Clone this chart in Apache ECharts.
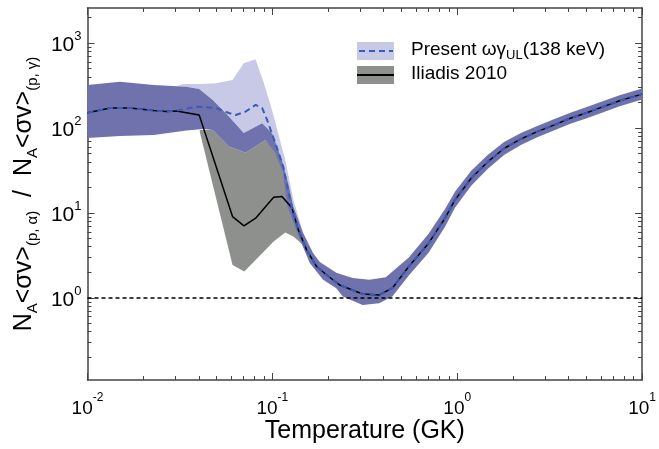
<!DOCTYPE html>
<html>
<head>
<meta charset="utf-8">
<script src="https://cdn.jsdelivr.net/npm/echarts@6/dist/echarts.min.js"></script>
<style>
  html, body { margin: 0; padding: 0; background: #fff; }
  #chart { width: 659px; height: 449px; }
</style>
</head>
<body>
<div id="chart"></div>
<script>
// [temperature GK, ratio]
const presentLine = [
  [0.01, 151], [0.0133, 172], [0.017, 172], [0.0228, 160], [0.0268, 156], [0.0303, 160],
  [0.0387, 178], [0.0495, 172], [0.0582, 150], [0.0634, 142], [0.0718, 156], [0.0812, 187],
  [0.0881, 171], [0.0937, 124], [0.1037, 66.6], [0.1145, 35], [0.1274, 11.5], [0.1382, 6.31],
  [0.1533, 3.67], [0.1734, 2.34], [0.1961, 1.87], [0.231, 1.42], [0.3076, 1.11], [0.378, 1.08],
  [0.4453, 1.30], [0.547, 2.34], [0.70, 4.40], [0.859, 8.7], [0.972, 14.2], [1.19, 25.6],
  [1.465, 40.1], [1.80, 57.7], [2.21, 74.2], [2.71, 90.5], [3.33, 108], [4.09, 130],
  [5.02, 151], [6.17, 178], [7.56, 209], [10, 250]
]
const iliadisLine = [
  [0.01, 151], [0.0133, 172], [0.017, 172], [0.0228, 160], [0.0268, 156], [0.0303, 158],
  [0.0402, 142], [0.0609, 9.05], [0.0702, 7.03], [0.0812, 8.66], [0.1016, 15.3], [0.1127, 15.6],
  [0.1274, 11.5], [0.1382, 6.31], [0.1533, 3.67], [0.1734, 2.34], [0.1961, 1.87], [0.231, 1.42],
  [0.3076, 1.11], [0.378, 1.08], [0.4453, 1.30], [0.547, 2.34], [0.70, 4.40], [0.859, 8.7],
  [0.972, 14.2], [1.19, 25.6], [1.465, 40.1], [1.80, 57.7], [2.21, 74.2], [2.71, 90.5],
  [3.33, 108], [4.09, 130], [5.02, 151], [6.17, 178], [7.56, 209], [10, 250]
]
const darkBandUpper = [
  [0.01, 320], [0.015, 350], [0.0228, 320], [0.0343, 306], [0.0402, 288], [0.0476, 213.5],
  [0.0582, 136], [0.070, 87.4], [0.0881, 113.6], [0.0996, 87.4], [0.1127, 42.0], [0.1218, 22.5],
  [0.130, 11.9], [0.147, 5.77], [0.1663, 3.36], [0.1806, 2.65], [0.2218, 1.97], [0.272, 1.71],
  [0.334, 1.63], [0.4106, 1.75], [0.547, 2.98], [0.70, 5.69], [0.859, 11.1], [0.972, 17.7],
  [1.19, 31.4], [1.465, 48.5], [1.80, 68.8], [2.21, 87.4], [2.71, 105.6],
  [3.33, 126.5], [4.09, 151], [5.02, 176], [6.17, 207], [7.56, 243], [10, 292]
]
const darkBandLower = [
  [0.01, 76.3], [0.015, 80.5], [0.0228, 82.7], [0.0343, 93.0], [0.0422, 97.3], [0.0476, 94.7],
  [0.0582, 60.3], [0.0717, 51.2], [0.0918, 72.3], [0.1038, 50.8], [0.1141, 29.3], [0.1207, 11.9],
  [0.1412, 4.81], [0.1597, 2.56], [0.1881, 1.63], [0.2218, 1.30], [0.2406, 1.036], [0.3076, 0.827],
  [0.378, 0.866], [0.4453, 1.036], [0.547, 1.83], [0.70, 3.40], [0.859, 6.85], [0.972, 11.5],
  [1.19, 20.9], [1.465, 33.2], [1.80, 48.4], [2.21, 63.1], [2.71, 77.5], [3.33, 93],
  [4.09, 112], [5.02, 130], [6.17, 153.5], [7.56, 180], [10, 216.5]
]
const lightBandUpper = [
  [0.01, 320], [0.015, 350], [0.0228, 320], [0.0303, 310], [0.033, 329], [0.0402, 329],
  [0.0496, 336], [0.0609, 367], [0.070, 577], [0.0811, 643], [0.0895, 350], [0.0996, 163],
  [0.1174, 42.0], [0.130, 14.2], [0.147, 5.77]
]
const grayBandUpper = [
  [0.0405, 94.7], [0.0476, 94.7], [0.0582, 60.3], [0.0717, 51.2], [0.0918, 72.3], [0.1038, 55.1],
  [0.1174, 24.4], [0.1327, 9.47], [0.1465, 4.20]
]
const grayBandLower = [
  [0.0405, 89.7], [0.0609, 2.44], [0.0705, 2.04], [0.0881, 3.36], [0.1016, 4.60], [0.1174, 5.87],
  [0.130, 5.26], [0.1465, 4.20]
]
const xMajorTicks = [0.01, 0.1, 1, 10]
const xMinorTicks = [0.02, 0.03, 0.04, 0.05, 0.06, 0.07, 0.08, 0.09, 0.2, 0.3, 0.4, 0.5, 0.6, 0.7, 0.8, 0.9,
  2, 3, 4, 5, 6, 7, 8, 9]
const yMajorTicks = [1, 10, 100, 1000]
const yMinorTicks = [0.2, 0.3, 0.4, 0.5, 0.6, 0.7, 0.8, 0.9, 2, 3, 4, 5, 6, 7, 8, 9,
  20, 30, 40, 50, 60, 70, 80, 90, 200, 300, 400, 500, 600, 700, 800, 900, 2000]

const FONT = '"Liberation Sans", Arial, sans-serif'
const FRAME = '#444'

const chart = echarts.init(document.getElementById('chart'))

const powLabel = v => '{a|10}{b|' + Math.round(Math.log10(v)) + '}'

function xAxisDef(pos, major, withLabels) {
  return {
    type: 'log', logBase: 10, min: 0.01, max: 10, position: pos,
    axisLine: { show: major, onZero: false, lineStyle: { color: FRAME, width: 1.5 } },
    axisTick: { inside: true, length: major ? 7 : 4, lineStyle: { color: FRAME, width: 1 },
      customValues: major ? xMajorTicks : xMinorTicks },
    axisLabel: withLabels ? {
      customValues: xMajorTicks, margin: 12, formatter: powLabel,
      rich: {
        a: { fontFamily: FONT, fontSize: 19, color: '#000', lineHeight: 26, verticalAlign: 'bottom' },
        b: { fontFamily: FONT, fontSize: 12, color: '#000', lineHeight: 14, verticalAlign: 'top' }
      }
    } : { show: false },
    splitLine: { show: false },
    minorTick: { show: false }
  }
}
function yAxisDef(pos, major, withLabels) {
  return {
    type: 'log', logBase: 10, min: 0.108, max: 2580, position: pos,
    axisLine: { show: major, onZero: false, lineStyle: { color: FRAME, width: 1.5 } },
    axisTick: { inside: true, length: major ? 7 : 4, lineStyle: { color: FRAME, width: 1 },
      customValues: major ? yMajorTicks : yMinorTicks },
    axisLabel: withLabels ? {
      customValues: yMajorTicks, margin: 6, formatter: powLabel,
      rich: {
        a: { fontFamily: FONT, fontSize: 21, color: '#000', lineHeight: 26, verticalAlign: 'bottom' },
        b: { fontFamily: FONT, fontSize: 13, color: '#000', lineHeight: 14, verticalAlign: 'top' }
      }
    } : { show: false },
    splitLine: { show: false },
    minorTick: { show: false }
  }
}

const xMain = xAxisDef('bottom', true, true)
xMain.name = 'Temperature (GK)'
xMain.nameLocation = 'middle'
xMain.nameGap = 39
xMain.nameMoveOverlap = false
xMain.nameTextStyle = { fontFamily: FONT, fontSize: 25, color: '#000' }

// rotated y title with subscripts
const yMain = yAxisDef('left', true, true)
yMain.name = 'N{s|A}<σv>{s|(p, α)}  /  N{s|A}<σv>{s|(p, γ)}'
yMain.nameLocation = 'middle'
yMain.nameGap = 47
yMain.nameTextStyle = {
  fontFamily: FONT, fontSize: 25, color: '#000', lineHeight: 32, verticalAlign: 'top',
  rich: {
    s: { fontFamily: FONT, fontSize: 15, color: '#000', lineHeight: 16, verticalAlign: 'bottom' }
  }
}

function band(upper, lower, color) {
  return {
    type: 'custom',
    silent: true,
    data: [upper[0]],
    encode: { x: 0, y: 1 },
    renderItem: (params, api) => {
      const pts = upper.map(p => api.coord(p))
        .concat(lower.slice().reverse().map(p => api.coord(p)))
      return { type: 'polygon', shape: { points: pts }, style: { fill: color } }
    }
  }
}

const lightLower = darkBandUpper.filter(p => p[0] <= lightBandUpper[lightBandUpper.length - 1][0])

const option = {
  animation: false,
  backgroundColor: '#fff',
  grid: { left: 85, right: 12, top: 8, bottom: 69 },
  xAxis: [
    xMain,
    xAxisDef('bottom', false, false),
    xAxisDef('top', true, false),
    xAxisDef('top', false, false)
  ],
  yAxis: [
    yMain,
    yAxisDef('left', false, false),
    yAxisDef('right', true, false),
    yAxisDef('right', false, false)
  ],
  series: [
    band(grayBandUpper, grayBandLower, '#8e908e'),
    band(lightBandUpper, lightLower, '#c8c9e6'),
    band(darkBandUpper, darkBandLower, '#7072ae'),
    {
      type: 'line', name: 'Iliadis 2010', data: iliadisLine, showSymbol: false, silent: true,
      lineStyle: { color: '#000', width: 1.5 }
    },
    {
      type: 'line', name: 'Present', data: presentLine, showSymbol: false, silent: true,
      lineStyle: { color: '#3a5bb8', width: 2, type: [6, 4] },
      markLine: {
        silent: true, symbol: 'none', label: { show: false },
        lineStyle: { color: '#000', width: 1.5, type: [4, 3] },
        data: [{ yAxis: 1 }]
      }
    }
  ],
  graphic: [
    { type: 'rect', shape: { x: 357, y: 42, width: 37, height: 18 }, style: { fill: '#c8c9e6' } },
    { type: 'line', shape: { x1: 359, y1: 51, x2: 393, y2: 51 },
      style: { stroke: '#3a5bb8', lineWidth: 2, lineDash: [6, 4] } },
    { type: 'rect', shape: { x: 357, y: 66, width: 37, height: 18 }, style: { fill: '#8e908e' } },
    { type: 'line', shape: { x1: 357, y1: 75, x2: 394, y2: 75 },
      style: { stroke: '#000', lineWidth: 2 } },
    {
      type: 'text', left: 411, top: 38,
      style: {
        text: 'Present ωγ{s|UL}(138 keV)', fontFamily: FONT, fontSize: 19, fill: '#000',
        lineHeight: 24, verticalAlign: 'top',
        rich: { s: { fontFamily: FONT, fontSize: 13, fill: '#000', lineHeight: 14, verticalAlign: 'bottom' } }
      }
    },
    {
      type: 'text', left: 411, top: 64,
      style: { text: 'Iliadis 2010', fontFamily: FONT, fontSize: 19, fill: '#000' }
    }
  ]
}

chart.setOption(option)
</script>
</body>
</html>
